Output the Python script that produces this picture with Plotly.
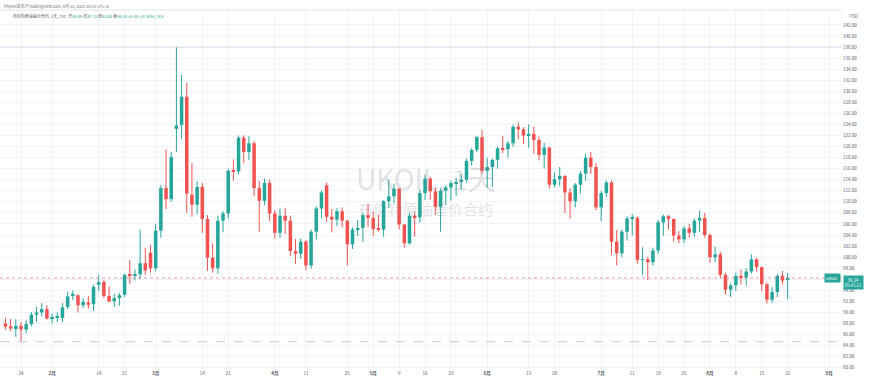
import pandas as pd
import plotly.graph_objects as go

# ---------------- data ----------------
closed_days = ["2022-04-15", "2022-04-18"]
dates = [d.strftime("%Y-%m-%d") for d in pd.bdate_range("2022-01-19", "2022-08-22")
         if d.strftime("%Y-%m-%d") not in closed_days]
future_days = [d.strftime("%Y-%m-%d") for d in pd.bdate_range("2022-08-23", "2022-09-30")]

opens = [
    # Jan 19-31
    88.0, 87.5, 87.0, 87.6, 86.9, 87.9, 89.6, 90.0, 90.6,
    # Feb
    88.9, 89.0, 89.0, 91.0, 93.0, 93.1, 91.3, 91.8, 91.5, 95.0, 95.5, 93.0, 92.0, 92.6,
    93.2, 96.9, 96.6, 96.9, 98.9, 100.8,
    # Mar
    98.0, 104.8, 112.5, 110.5, 123.2, 123.9, 129.0, 111.3, 109.5, 112.7, 106.9, 99.9,
    98.0, 106.6, 107.9, 115.6, 115.5, 121.6, 119.0, 120.6, 112.5, 110.2, 113.4,
    # Apr
    107.9, 104.4, 107.5, 106.6, 101.1, 100.6, 102.8, 98.5, 104.6, 108.8, 113.0, 107.3,
    106.8, 108.3, 106.6, 102.3, 105.0, 105.3, 107.6,
    # May
    107.1, 105.1, 105.0, 110.1, 111.0, 112.4, 105.9, 102.5, 107.5, 107.2, 111.6, 114.2,
    111.9, 109.1, 112.0, 112.6, 113.4, 113.6, 114.0, 117.4, 119.4, 121.7,
    # Jun
    115.6, 116.3, 117.6, 119.7, 119.5, 120.6, 123.6, 123.1, 122.0, 122.3, 121.2, 118.5,
    119.8, 113.1, 114.1, 114.7, 111.7, 110.1, 113.1, 115.1, 118.0, 116.3,
    # Jul
    109.0, 111.6, 113.5, 102.8, 100.7, 104.6, 107.0, 107.1, 99.5, 99.6, 99.1, 101.2,
    106.3, 107.4, 106.9, 103.9, 103.2, 105.2, 104.4, 106.6, 107.1,
    # Aug 1-22
    104.0, 100.0, 100.5, 96.8, 94.1, 94.9, 96.6, 96.3, 97.4, 99.6, 98.2, 95.1, 92.3,
    93.7, 96.6, 95.89,
]
highs = [
    89.0, 88.8, 88.8, 88.3, 88.6, 90.1, 91.0, 91.7, 91.3,
    89.8, 90.0, 91.7, 93.7, 94.0, 93.3, 92.6, 93.0, 95.0, 96.8, 95.9, 94.7, 93.4, 93.5,
    97.0, 99.5, 97.8, 105.0, 101.7, 102.2,
    106.0, 113.0, 119.5, 119.0, 138.0, 133.0, 131.5, 117.0, 113.7, 113.4, 107.6, 102.5,
    107.5, 108.3, 116.0, 117.7, 122.0, 122.0, 121.9, 121.0, 113.8, 114.2, 114.0,
    108.5, 108.8, 108.9, 107.5, 103.3, 103.4, 103.1, 105.0, 109.2, 112.0, 113.5, 108.7,
    108.9, 109.0, 106.7, 105.4, 106.7, 108.0, 109.7,
    108.3, 107.7, 110.3, 114.0, 113.3, 112.5, 106.0, 108.0, 108.2, 112.2, 114.9, 114.5,
    112.6, 112.4, 113.0, 113.8, 114.4, 115.0, 117.8, 119.7, 121.9, 123.0,
    118.0, 117.8, 119.9, 121.9, 121.0, 124.0, 124.4, 123.5, 124.0, 123.6, 121.8, 120.7,
    120.0, 115.3, 116.3, 114.8, 112.5, 113.4, 115.6, 118.7, 119.0, 117.0,
    112.0, 113.9, 113.9, 104.9, 105.0, 107.4, 107.8, 107.4, 101.8, 100.0, 101.7, 106.7,
    107.7, 107.6, 107.0, 104.7, 105.6, 106.0, 107.0, 108.4, 108.0,
    104.3, 101.9, 101.0, 97.2, 95.3, 97.2, 97.7, 98.0, 100.5, 99.9, 98.3, 95.4,
    94.6, 96.9, 97.5, 97.15,
]
lows = [
    86.9, 86.6, 85.6, 84.7, 86.2, 87.5, 88.3, 89.3, 88.7,
    88.0, 88.3, 88.2, 90.6, 92.2, 90.0, 90.8, 90.7, 90.3, 93.9, 92.6, 91.8, 91.0, 91.2,
    92.8, 95.2, 95.8, 96.0, 96.8, 97.2,
    97.5, 103.5, 108.7, 110.0, 119.0, 121.4, 108.0, 107.3, 107.7, 104.4, 97.5, 97.2,
    97.0, 104.5, 107.0, 113.8, 115.0, 117.0, 117.6, 111.0, 104.6, 109.4, 106.5,
    103.3, 103.5, 104.2, 100.2, 98.8, 99.7, 97.6, 97.9, 103.2, 107.0, 106.3, 104.5,
    105.6, 105.4, 98.5, 101.5, 103.8, 102.8, 105.5,
    103.8, 104.6, 103.7, 108.9, 109.7, 105.0, 101.7, 102.3, 103.7, 106.2, 110.3, 110.4,
    107.7, 104.6, 109.5, 110.2, 111.1, 112.3, 113.5, 116.6, 119.0, 115.0,
    112.6, 112.7, 116.0, 118.8, 118.0, 120.0, 121.3, 120.5, 119.8, 118.7, 117.5, 116.0,
    112.4, 112.6, 112.9, 108.0, 107.0, 109.0, 111.5, 113.8, 115.0, 108.5,
    106.5, 110.9, 100.3, 98.5, 100.0, 103.0, 103.9, 98.8, 96.8, 95.9, 98.5, 100.6,
    103.9, 105.0, 102.8, 102.5, 102.5, 103.5, 103.7, 104.6, 103.5,
    99.0, 99.1, 96.2, 93.2, 92.8, 93.9, 95.1, 94.8, 97.0, 97.4, 93.9, 91.6,
    91.7, 92.8, 95.0, 92.40,
]
closes = [
    87.4, 87.1, 87.6, 86.9, 87.9, 89.6, 90.0, 90.6, 88.9,
    89.0, 89.2, 90.9, 92.9, 93.2, 91.3, 91.9, 91.4, 94.6, 95.5, 93.0, 92.0, 92.6, 93.1,
    96.8, 96.6, 96.9, 98.9, 97.6, 98.0,
    104.8, 112.5, 110.5, 118.1, 123.8, 129.0, 111.5, 109.5, 112.7, 106.9, 99.9, 98.0,
    106.6, 107.9, 115.6, 115.5, 121.6, 119.0, 120.6, 112.5, 110.2, 113.4, 107.9,
    104.4, 107.5, 106.6, 101.1, 100.6, 102.8, 98.5, 104.6, 108.8, 111.7, 107.3, 106.8,
    108.3, 106.6, 102.3, 105.0, 105.3, 107.6, 107.1,
    105.1, 105.0, 110.1, 111.0, 112.4, 105.9, 102.5, 107.5, 107.2, 111.6, 114.2, 111.9,
    109.1, 112.0, 112.6, 113.4, 113.6, 114.0, 117.4, 119.4, 121.7, 115.6,
    116.3, 117.6, 119.7, 119.5, 120.6, 123.6, 123.1, 122.0, 122.3, 121.2, 118.5, 119.8,
    113.1, 114.1, 114.7, 111.7, 110.1, 113.1, 115.1, 118.0, 116.3, 109.0,
    111.6, 113.5, 102.8, 100.7, 104.6, 107.0, 107.1, 99.5, 99.6, 99.1, 101.2, 106.3,
    107.4, 106.9, 103.9, 103.2, 105.2, 104.4, 106.6, 107.1, 104.0,
    100.0, 100.5, 96.8, 94.1, 94.9, 96.6, 96.3, 97.4, 99.6, 98.2, 95.1, 92.3,
    93.7, 96.6, 95.76, 96.24,
]

tick_dates = ["2022-01-24", "2022-02-01", "2022-02-14", "2022-02-21", "2022-03-01",
              "2022-03-14", "2022-03-21", "2022-04-01", "2022-04-11", "2022-04-25",
              "2022-05-02", "2022-05-09", "2022-05-16", "2022-05-23", "2022-06-01",
              "2022-06-13", "2022-06-20", "2022-07-01", "2022-07-11", "2022-07-18",
              "2022-07-25", "2022-08-01", "2022-08-08", "2022-08-15", "2022-08-22",
              "2022-09-01"]
tick_text = ["24", "<b>2月</b>", "14", "21", "<b>3月</b>", "14", "21", "<b>4月</b>", "11",
             "25", "<b>5月</b>", "9", "16", "23", "<b>6月</b>", "13", "20", "<b>7月</b>",
             "11", "18", "25", "<b>8月</b>", "8", "15", "22", "<b>9月</b>"]
price_ticks = [80, 82, 84, 86, 88, 90, 92, 94, 96, 98, 100, 102, 104, 106, 108, 110,
               112, 114, 116, 118, 120, 122, 124, 126, 128, 130, 132, 134, 136, 138,
               140, 142]

assert len(dates) == len(opens) == len(highs) == len(lows) == len(closes)

# ---------------- figure ----------------
UP = "#26a69a"
DOWN = "#ef5350"
FONT = "Noto Sans CJK SC, Noto Sans, sans-serif"

axis_days = dates + future_days
pos = {d: i for i, d in enumerate(axis_days)}
xs = [pos[d] for d in dates]

fig = go.Figure()

# wicks
for col, cond in ((UP, True), (DOWN, False)):
    wx, wy = [], []
    for x, o, h, l, c in zip(xs, opens, highs, lows, closes):
        if (c >= o) == cond:
            wx += [x, x, None]
            wy += [l, h, None]
    fig.add_trace(go.Scatter(x=wx, y=wy, mode="lines",
                             line=dict(color=col, width=1), hoverinfo="skip",
                             showlegend=False))

# bodies
for col, cond in ((UP, True), (DOWN, False)):
    bx, bb, bh = [], [], []
    for x, o, c in zip(xs, opens, closes):
        if (c >= o) == cond:
            bx.append(x)
            bb.append(min(o, c))
            bh.append(max(abs(c - o), 0.12))
    fig.add_trace(go.Bar(x=bx, y=bh, base=bb, width=0.68,
                         marker=dict(color=col, line=dict(width=0)),
                         hoverinfo="skip", showlegend=False))

# layout geometry
W, H = 872, 378
ML, MR, MT, MB = 0, 30, 10, 9
PW = W - ML - MR
PH = H - MT - MB
ppd = 5.18
x0 = pos["2022-01-24"] - 21 / ppd
x1 = x0 + PW / ppd


def px_x(px):
    return (px - ML) / PW


def px_y(py):
    return (H - MB - py) / PH


last = closes[-1]
hi = max(highs)
lo = min(lows)

# the price label covers the nearest scale label, as in the reference
price_text = ["" if abs(v - last) < 1.2 else f"{v:.2f}" for v in price_ticks]

fig.update_layout(
    width=W, height=H,
    margin=dict(l=ML, r=MR, t=MT, b=MB),
    paper_bgcolor="white", plot_bgcolor="white",
    barmode="overlay", hovermode=False,
    font=dict(family=FONT, size=5, color="#50535e"),
    xaxis=dict(range=[x0, x1], tickmode="array",
               tickvals=[pos[d] for d in tick_dates], ticktext=tick_text,
               showgrid=True, gridcolor="#f0f3fa", gridwidth=1,
               zeroline=False, showline=False, ticks="", ticklen=0,
               tickfont=dict(size=4.5, color="#50535e", family=FONT)),
    yaxis=dict(range=[79.77, 144.7], side="right", tickmode="array",
               tickvals=price_ticks, ticktext=price_text,
               showgrid=True, gridcolor="#f0f3fa", gridwidth=1,
               zeroline=False, showline=False, ticks="", ticklen=2,
               tickfont=dict(size=4.5, color="#50535e", family=FONT)),
)

shapes = [
    dict(type="line", xref="paper", yref="paper", x0=0, x1=1, y0=1, y1=1,
         line=dict(color="#e0e3eb", width=1)),
    dict(type="line", xref="paper", yref="y", x0=0, x1=1, y0=hi, y1=hi,
         line=dict(color="#dcdfe6", width=1)),
    dict(type="line", xref="paper", yref="y", x0=0, x1=1, y0=lo, y1=lo,
         line=dict(color="#c4c7ce", width=1, dash="dash")),
    dict(type="line", xref="paper", yref="y", x0=0, x1=1, y0=last, y1=last,
         line=dict(color="rgba(229,115,140,0.75)", width=1, dash="dot")),
]
fig.update_layout(shapes=shapes)

g = lambda t: f"<span style='color:{UP}'>{t}</span>"
legend2 = ("布伦特原油差价合约, 1天, TVC  开" + g("95.89") + " 高" + g("97.15") +
           " 低" + g("92.40") + " 收" + g("96.24") + " " + g("+0.48 (+0.50%)") +
           "  " + g("N/A"))

ann = [
    dict(text="Phyrex发布于TradingView.com, 8月 22, 2022 20:18 UTC+8",
         x=px_x(2), y=px_y(6), xanchor="left", yanchor="middle",
         font=dict(size=4, color="#6a6d78", family=FONT)),
    dict(text=legend2, x=px_x(11), y=px_y(16), xanchor="left", yanchor="middle",
         font=dict(size=4, color="#50535e", family=FONT)),
    dict(text="UKOIL, 1天", x=px_x(425), y=px_y(178), xanchor="center",
         yanchor="middle", font=dict(size=28, color="rgba(120,123,134,0.22)",
                                      family=FONT)),
    dict(text="布伦特原油差价合约", x=px_x(425), y=px_y(208), xanchor="center",
         yanchor="middle", font=dict(size=15, color="rgba(120,123,134,0.22)",
                                      family=FONT)),
    dict(text="USD", x=px_x(853), y=px_y(16), xanchor="center", yanchor="middle",
         font=dict(size=4.5, color="#50535e", family=FONT)),
    dict(text=f"{last:.2f}<br>05:41:11", x=1, y=last, xref="paper", yref="y",
         xanchor="left", yanchor="top", xshift=1, yshift=3, align="center",
         bgcolor=UP, borderpad=1, showarrow=False,
         font=dict(size=4.2, color="white", family=FONT)),
    dict(text="UKOIL", x=1, y=last, xref="paper", yref="y",
         xanchor="right", yanchor="middle", xshift=-1, bgcolor=UP, borderpad=1,
         showarrow=False, font=dict(size=4, color="white", family=FONT)),
]
for a in ann:
    a.setdefault("xref", "paper")
    a.setdefault("yref", "paper")
    a.setdefault("showarrow", False)
fig.update_layout(annotations=ann)

fig.write_html("out.html")
